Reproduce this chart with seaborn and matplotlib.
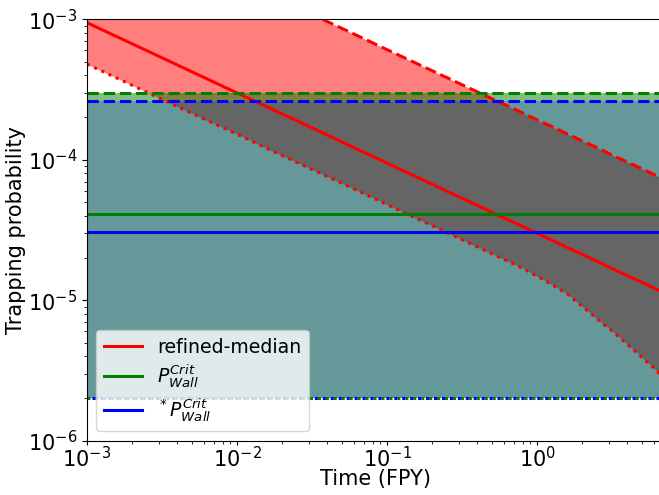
import numpy as np
import pandas as pd
import matplotlib
matplotlib.use("Agg")
import matplotlib.pyplot as plt
import seaborn as sns

# ---- data ----
times = [0.001, 0.002, 0.005, 0.01, 0.02, 0.05, 0.1, 0.2, 0.5, 0.79, 1.0, 1.26,
         1.58, 2.0, 2.51, 3.16, 3.98, 5.01, 6.9]
median = [9.46e-4, 6.69e-4, 4.23e-4, 2.99e-4, 2.12e-4, 1.34e-4, 9.46e-5, 6.69e-5,
          4.23e-5, 3.37e-5, 2.99e-5, 2.67e-5, 2.38e-5, 2.12e-5, 1.89e-5, 1.68e-5,
          1.50e-5, 1.34e-5, 1.14e-5]
upper = [6.08e-3, 4.30e-3, 2.72e-3, 1.92e-3, 1.36e-3, 8.62e-4, 6.08e-4, 4.30e-4,
         2.72e-4, 2.17e-4, 1.92e-4, 1.72e-4, 1.53e-4, 1.36e-4, 1.22e-4, 1.08e-4,
         9.65e-5, 8.62e-5, 7.33e-5]
lower = [4.80e-4, 3.39e-4, 2.14e-4, 1.52e-4, 1.07e-4, 6.79e-5, 4.80e-5, 3.39e-5,
         2.14e-5, 1.70e-5, 1.48e-5, 1.29e-5, 1.11e-5, 9.05e-6, 7.35e-6, 6.03e-6,
         4.86e-6, 3.91e-6, 2.86e-6]

p_wall = {"median": 4.14e-5, "high": 3.0e-4, "low": 2.03e-6}
p_wall_star = {"median": 3.08e-5, "high": 2.63e-4, "low": 2.03e-6}

labels = ["refined-median", r"$P_{Wall}^{Crit}$", r"$^*P_{Wall}^{Crit}$"]

df = pd.DataFrame({"time": times, "median": median, "upper": upper, "lower": lower})

fig = plt.figure(figsize=(6.59, 4.95), dpi=100)
# axes right edge lies just past the figure edge (clipped as in reference)
ax = fig.add_axes([87 / 659, 1 - 440.7 / 495, 576 / 659, 421.4 / 495])
ax.set_xscale("log")
ax.set_yscale("log")

# red band first
ax.fill_between(df["time"], df["lower"], df["upper"], color="red", alpha=0.5, lw=0)
sns.lineplot(data=df, x="time", y="median", ax=ax, color="red", lw=2.2, label=labels[0])
sns.lineplot(data=df, x="time", y="upper", ax=ax, color="red", lw=2.2, ls=(0, (3.7, 1.6)))
sns.lineplot(data=df, x="time", y="lower", ax=ax, color="red", lw=2.2, ls=(0, (1, 1.6)))

xfill = [1e-4, 100]
ax.fill_between(xfill, p_wall["low"], p_wall["high"], color="green", alpha=0.5, lw=0)
ax.fill_between(xfill, p_wall_star["low"], p_wall_star["high"], color="blue", alpha=0.2, lw=0)

ax.axhline(p_wall["median"], color="green", lw=2.2, label=labels[1])
ax.axhline(p_wall["high"], color="green", lw=2.2, ls=(0, (3.7, 1.6)))
ax.axhline(p_wall["low"], color="green", lw=2.2, ls=(0, (1, 1.6)))
ax.axhline(p_wall_star["median"], color="blue", lw=2.2, label=labels[2])
ax.axhline(p_wall_star["high"], color="blue", lw=2.2, ls=(0, (3.7, 1.6)))
ax.axhline(p_wall_star["low"], color="blue", lw=2.2, ls=(1, (1, 1.6)))

ax.set_xlim(1e-3, 6.9)
ax.set_ylim(1e-6, 1e-3)
ax.set_xlabel("Time (FPY)", fontsize=15, labelpad=-1.5)
ax.set_ylabel("Trapping probability", fontsize=15, labelpad=1)
ax.tick_params(axis="both", which="major", labelsize=15)
ax.tick_params(axis="x", which="major", pad=0.5, length=3)
ax.legend(loc="lower left", fontsize=13.6, labelspacing=0.3)

fig.savefig("out.png", dpi=100)
